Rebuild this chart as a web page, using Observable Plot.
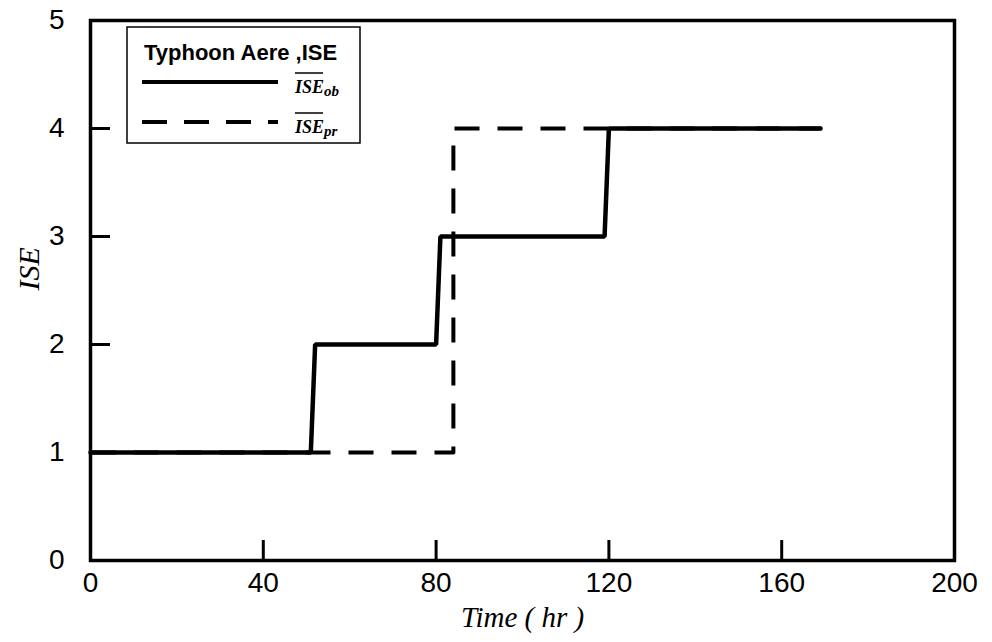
<!DOCTYPE html>
<html>
<head>
<meta charset="utf-8">
<script src="https://cdn.jsdelivr.net/npm/d3@7"></script>
<script src="https://cdn.jsdelivr.net/npm/@observablehq/plot@0.6"></script>
<style>
  html, body { margin: 0; padding: 0; background: #fff; }
  #chart svg { display: block; }
</style>
</head>
<body>
<div id="chart"></div>
<script>
// Observed ISE (solid)
const obsTime = [0, 51, 52, 80, 81, 119, 120, 169];
const obsISE  = [1, 1, 2, 2, 3, 3, 4, 4];
// Predicted ISE (dashed)
const predTime = [0, 84, 84, 169];
const predISE  = [1, 1, 4, 4];
// Axis ticks
const xTickLabels = [0, 40, 80, 120, 160, 200];
const yTickLabels = [0, 1, 2, 3, 4, 5];
const xInnerTicks = [40, 80, 120, 160];
const yInnerTicks = [1, 2, 3, 4];

const obs = obsTime.map((t, i) => ({t, v: obsISE[i]}));
const pred = predTime.map((t, i) => ({t, v: predISE[i]}));

const W = 992, H = 642;
const mT = 20, mB = 82, mL = 90, mR = 38;
const plotW = W - mL - mR, plotH = H - mT - mB;
const tickLen = 20;

const chart = Plot.plot({
  width: W,
  height: H,
  marginTop: mT,
  marginBottom: mB,
  marginLeft: mL,
  marginRight: mR,
  style: {fontFamily: "Liberation Sans, Arial, sans-serif", background: "#fff", color: "#000"},
  x: {domain: [0, 200]},
  y: {domain: [0, 5]},
  marks: [
    Plot.axisX({ticks: xTickLabels, tickSize: 0, tickPadding: 12, fontSize: 28, label: null, tickFormat: d => String(d)}),
    Plot.axisY({ticks: yTickLabels, tickSize: 0, tickPadding: 26, fontSize: 28, label: null, tickFormat: d => String(d)}),
    Plot.tickX(xInnerTicks, {x: d => d, insetTop: plotH - tickLen, stroke: "#000", strokeWidth: 3}),
    Plot.tickY(yInnerTicks, {y: d => d, insetRight: plotW - tickLen, stroke: "#000", strokeWidth: 3}),
    Plot.line(pred, {x: "t", y: "v", stroke: "#000", strokeWidth: 4, strokeDasharray: "25,18", strokeLinecap: "butt"}),
    Plot.line(obs, {x: "t", y: "v", stroke: "#000", strokeWidth: 4.5, strokeLinejoin: "miter"}),
    Plot.frame({stroke: "#000", strokeWidth: 3.5}),
    Plot.text(["Time ( hr )"], {frameAnchor: "bottom", dy: 66, fontSize: 29, fontStyle: "italic", fontFamily: "Liberation Serif, Times New Roman, serif", fill: "#000"}),
    Plot.text(["ISE"], {frameAnchor: "left", dx: -61, rotate: -90, fontSize: 30, fontStyle: "italic", fontFamily: "Liberation Serif, Times New Roman, serif", fill: "#000"})
  ]
});

document.getElementById("chart").appendChild(chart);

// Legend
const svg = d3.select(chart);
const lg = svg.append("g").attr("class", "legend").attr("text-anchor", "start");
lg.append("rect").attr("x", 127).attr("y", 27).attr("width", 233).attr("height", 116)
  .attr("fill", "#fff").attr("stroke", "#000").attr("stroke-width", 1.5);
lg.append("text").attr("x", 144).attr("y", 60).attr("text-anchor", "start")
  .attr("font-family", "Liberation Sans, Arial, sans-serif").attr("font-weight", "bold")
  .attr("font-size", 22).attr("fill", "#000").text("Typhoon Aere ,ISE");

const entries = [
  {y: 82, dash: null, sub: "ob"},
  {y: 122, dash: "25,17", sub: "pr"}
];
entries.forEach(e => {
  lg.append("line").attr("x1", 142).attr("x2", 278).attr("y1", e.y).attr("y2", e.y)
    .attr("stroke", "#000").attr("stroke-width", 4)
    .attr("stroke-dasharray", e.dash);
  const tx = lg.append("text").attr("x", 295).attr("y", e.y + 11).attr("text-anchor", "start")
    .attr("font-family", "Liberation Serif, Times New Roman, serif")
    .attr("font-style", "italic").attr("font-weight", "bold").attr("font-size", 18).attr("fill", "#000");
  tx.append("tspan").text("ISE");
  tx.append("tspan").attr("dy", 3).attr("font-size", 15).text(e.sub);
  lg.append("line").attr("x1", 295).attr("x2", 323).attr("y1", e.y - 9).attr("y2", e.y - 9)
    .attr("stroke", "#000").attr("stroke-width", 1.5);
});
</script>
</body>
</html>
